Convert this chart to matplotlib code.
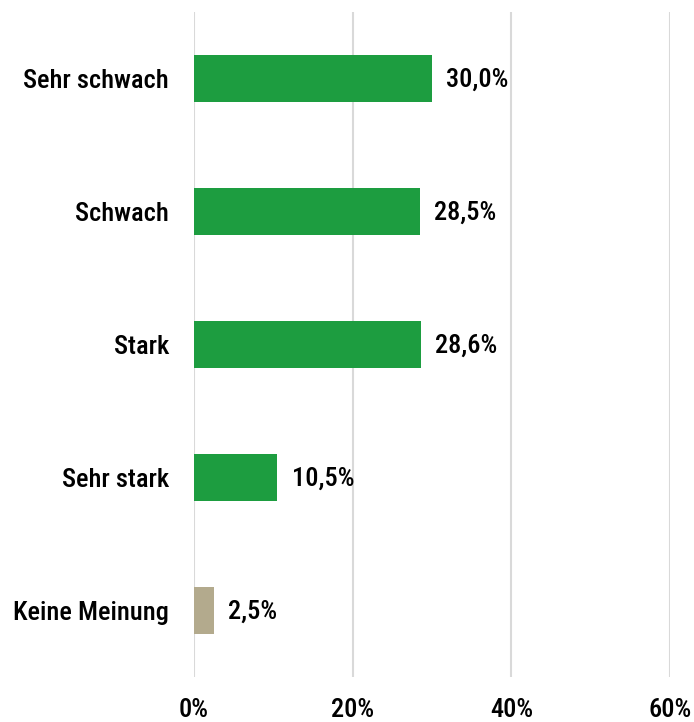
import matplotlib.pyplot as plt
from matplotlib.ticker import FuncFormatter

categories = ["Sehr schwach", "Schwach", "Stark", "Sehr stark", "Keine Meinung"]
values = [30.0, 28.5, 28.6, 10.5, 2.5]
bar_colors = ["#1d9d40", "#1d9d40", "#1d9d40", "#1d9d40", "#b3aa8d"]

plt.rcParams['font.family'] = ['Roboto Condensed', 'DejaVu Sans']
plt.rcParams['font.weight'] = 500

fig = plt.figure(figsize=(6.94, 7.22), dpi=100)
ax = fig.add_axes([0.2795, 0.0623, 0.686, 0.921])

y = list(range(len(categories)))
ax.barh(y, values, height=0.36, color=bar_colors, zorder=3)
for yi, v in zip(y, values):
    ax.text(v + 1.8, yi + 0.01, f"{v:.1f}%".replace(".", ","), va="center", ha="left",
            fontsize=19, color="black")

ax.set_xlim(0, 60)
ax.set_ylim(len(categories) - 0.5, -0.5)
ax.set_xticks([0, 20, 40, 60])
ax.xaxis.set_major_formatter(FuncFormatter(lambda x, p: f"{x:.0f}%"))
ax.set_yticks(y)
ax.set_yticklabels(categories)
ax.tick_params(axis="both", length=0, labelsize=19)
ax.tick_params(axis="y", pad=18)
ax.tick_params(axis="x", pad=15)
ax.grid(axis="x", color="#d9d9d9", linewidth=1.5, zorder=0)
for s in ax.spines.values():
    s.set_visible(False)

fig.savefig("out.png", dpi=100)
